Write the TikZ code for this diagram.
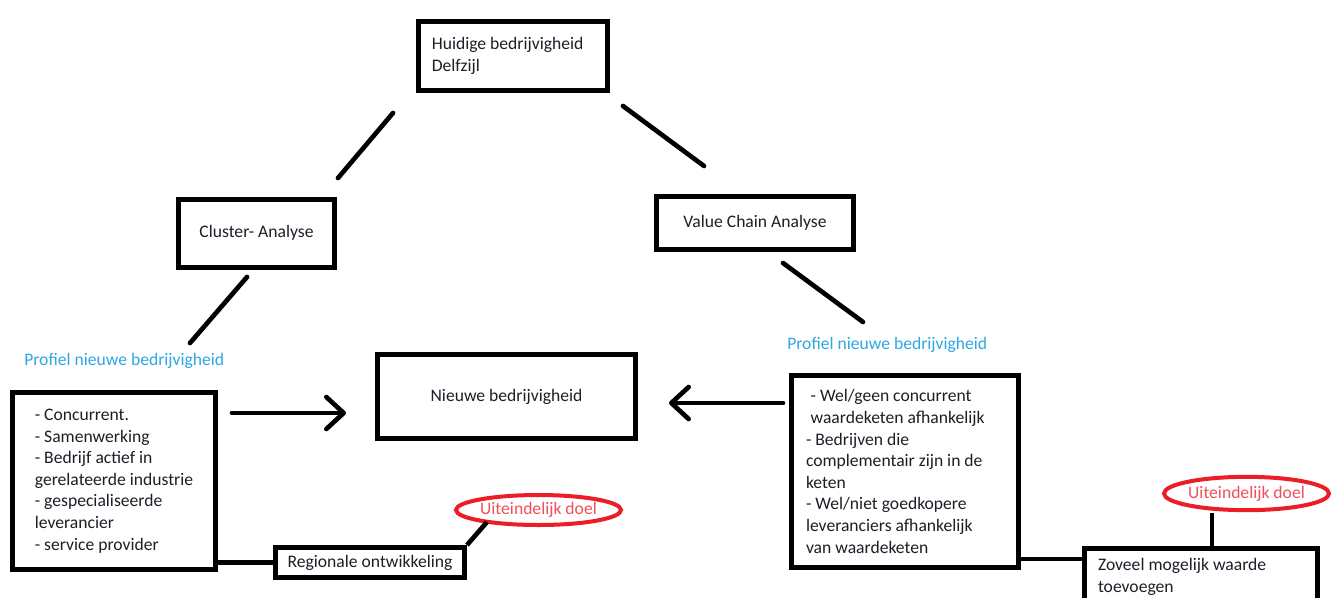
\documentclass[tikz,border=0pt]{standalone}
\usepackage{fontspec}
\setmainfont{Carlito}
\usetikzlibrary{shapes.geometric,arrows.meta}
\definecolor{txt}{RGB}{30,30,40}
\definecolor{profblue}{RGB}{45,168,228}
\definecolor{goalred}{RGB}{235,30,40}
\definecolor{goaltxt}{RGB}{240,80,90}
\tikzset{
  box/.style={draw=black, line width=3.75pt, fill=white, inner sep=0pt, font=\fontsize{13.2pt}{16.2pt}\selectfont, text=txt},
  conn/.style={line width=3.5pt, line cap=round},
  goal/.style={ellipse, draw=goalred, line width=3pt, inner sep=0pt, text=goaltxt, font=\fontsize{13.2pt}{15pt}\selectfont},
  prof/.style={anchor=west, inner sep=0pt, text=profblue, font=\fontsize{13.2pt}{15pt}\selectfont},
  arr/.style={line width=3.5pt, line cap=round, -{Straight Barb[length=13pt,width=24pt,line width=3.5pt,round]}}
}
\begin{document}
\begin{tikzpicture}[x=0.75pt,y=-0.75pt]
\clip (0,0) rectangle (1336,597);
\fill[white] (0,0) rectangle (1336,597);
% boxes
\node[box, minimum width=141.75pt, minimum height=51.75pt, text width=121.75pt, align=flush left] (top) at (513,56) {Huidige bedrijvigheid\\Delfzijl};
\node[box, minimum width=117pt, minimum height=51pt] (cluster) at (256.5,233) {Cluster- Analyse};
\node[box, minimum width=147.75pt, minimum height=39.75pt] (vca) at (755,223) {Value Chain Analyse};
\node[box, minimum width=193.5pt, minimum height=63pt] (new) at (506.5,396.5) {Nieuwe bedrijvigheid};
\node[box, minimum width=152.25pt, minimum height=132.75pt, align=flush left] (lbox) at (114,481)
  {- Concurrent.\\- Samenwerking\\- Bedrijf actief in\\gerelateerde industrie\\- gespecialiseerde\\leverancier\\- service provider};
\node[box, minimum width=170.25pt, minimum height=144pt, text width=148.5pt, align=flush left] (rbox) at (905,471.5)
  {\hspace{3.5pt}- Wel/geen concurrent\\\hspace{3.5pt}waardeketen afhankelijk\\- Bedrijven die\\complementair zijn in de\\keten\\- Wel/niet goedkopere\\leveranciers afhankelijk\\van waardeketen};
\node[box, minimum width=141.75pt, minimum height=22.5pt] (regio) at (370,562.5) {Regionale ontwikkeling};
\node[box, minimum width=174.75pt, minimum height=42.4pt, text width=154.5pt, align=flush left] (zoveel) at (1201,576.75) {Zoveel mogelijk waarde\\toevoegen};
% goals
\node[goal, minimum width=122pt, minimum height=22.5pt] (goal1) at (538.5,510) {Uiteindelijk doel};
\node[goal, minimum width=119pt, minimum height=25pt] (goal2) at (1246.5,493.5) {Uiteindelijk doel};
% profile labels
\node[prof] (prof1) at (24,361) {Profiel nieuwe bedrijvigheid};
\node[prof] (prof2) at (787,345) {Profiel nieuwe bedrijvigheid};
% connector end points
\coordinate (a1) at (393,113); \coordinate (a2) at (338,178);
\coordinate (b1) at (623,106); \coordinate (b2) at (704,166);
\coordinate (c1) at (247,277); \coordinate (c2) at (190,343);
\coordinate (d1) at (783,263); \coordinate (d2) at (863,322);
\coordinate (e1) at (232,413); \coordinate (e2) at (346,413);
\coordinate (f1) at (783,403); \coordinate (f2) at (669,403);
\coordinate (g1) at (487,522);
\coordinate (g2) at (1212,513);
\coordinate (r1) at (1021,559);
% connectors
\draw[conn] (a1) -- (a2);
\draw[conn] (b1) -- (b2);
\draw[conn] (c1) -- (c2);
\draw[conn] (d1) -- (d2);
\draw[arr] (e1) -- (e2);
\draw[arr] (f1) -- (f2);
\draw[conn, line cap=butt] (regio.west) -- (regio.west -| lbox.east);
\draw[conn, line cap=butt] (regio.north east) -- (g1);
\draw[conn, line cap=butt] (r1) -- (r1 -| zoveel.west);
\draw[conn, line cap=butt] (g2) -- (g2 |- zoveel.north);
\end{tikzpicture}
\end{document}
